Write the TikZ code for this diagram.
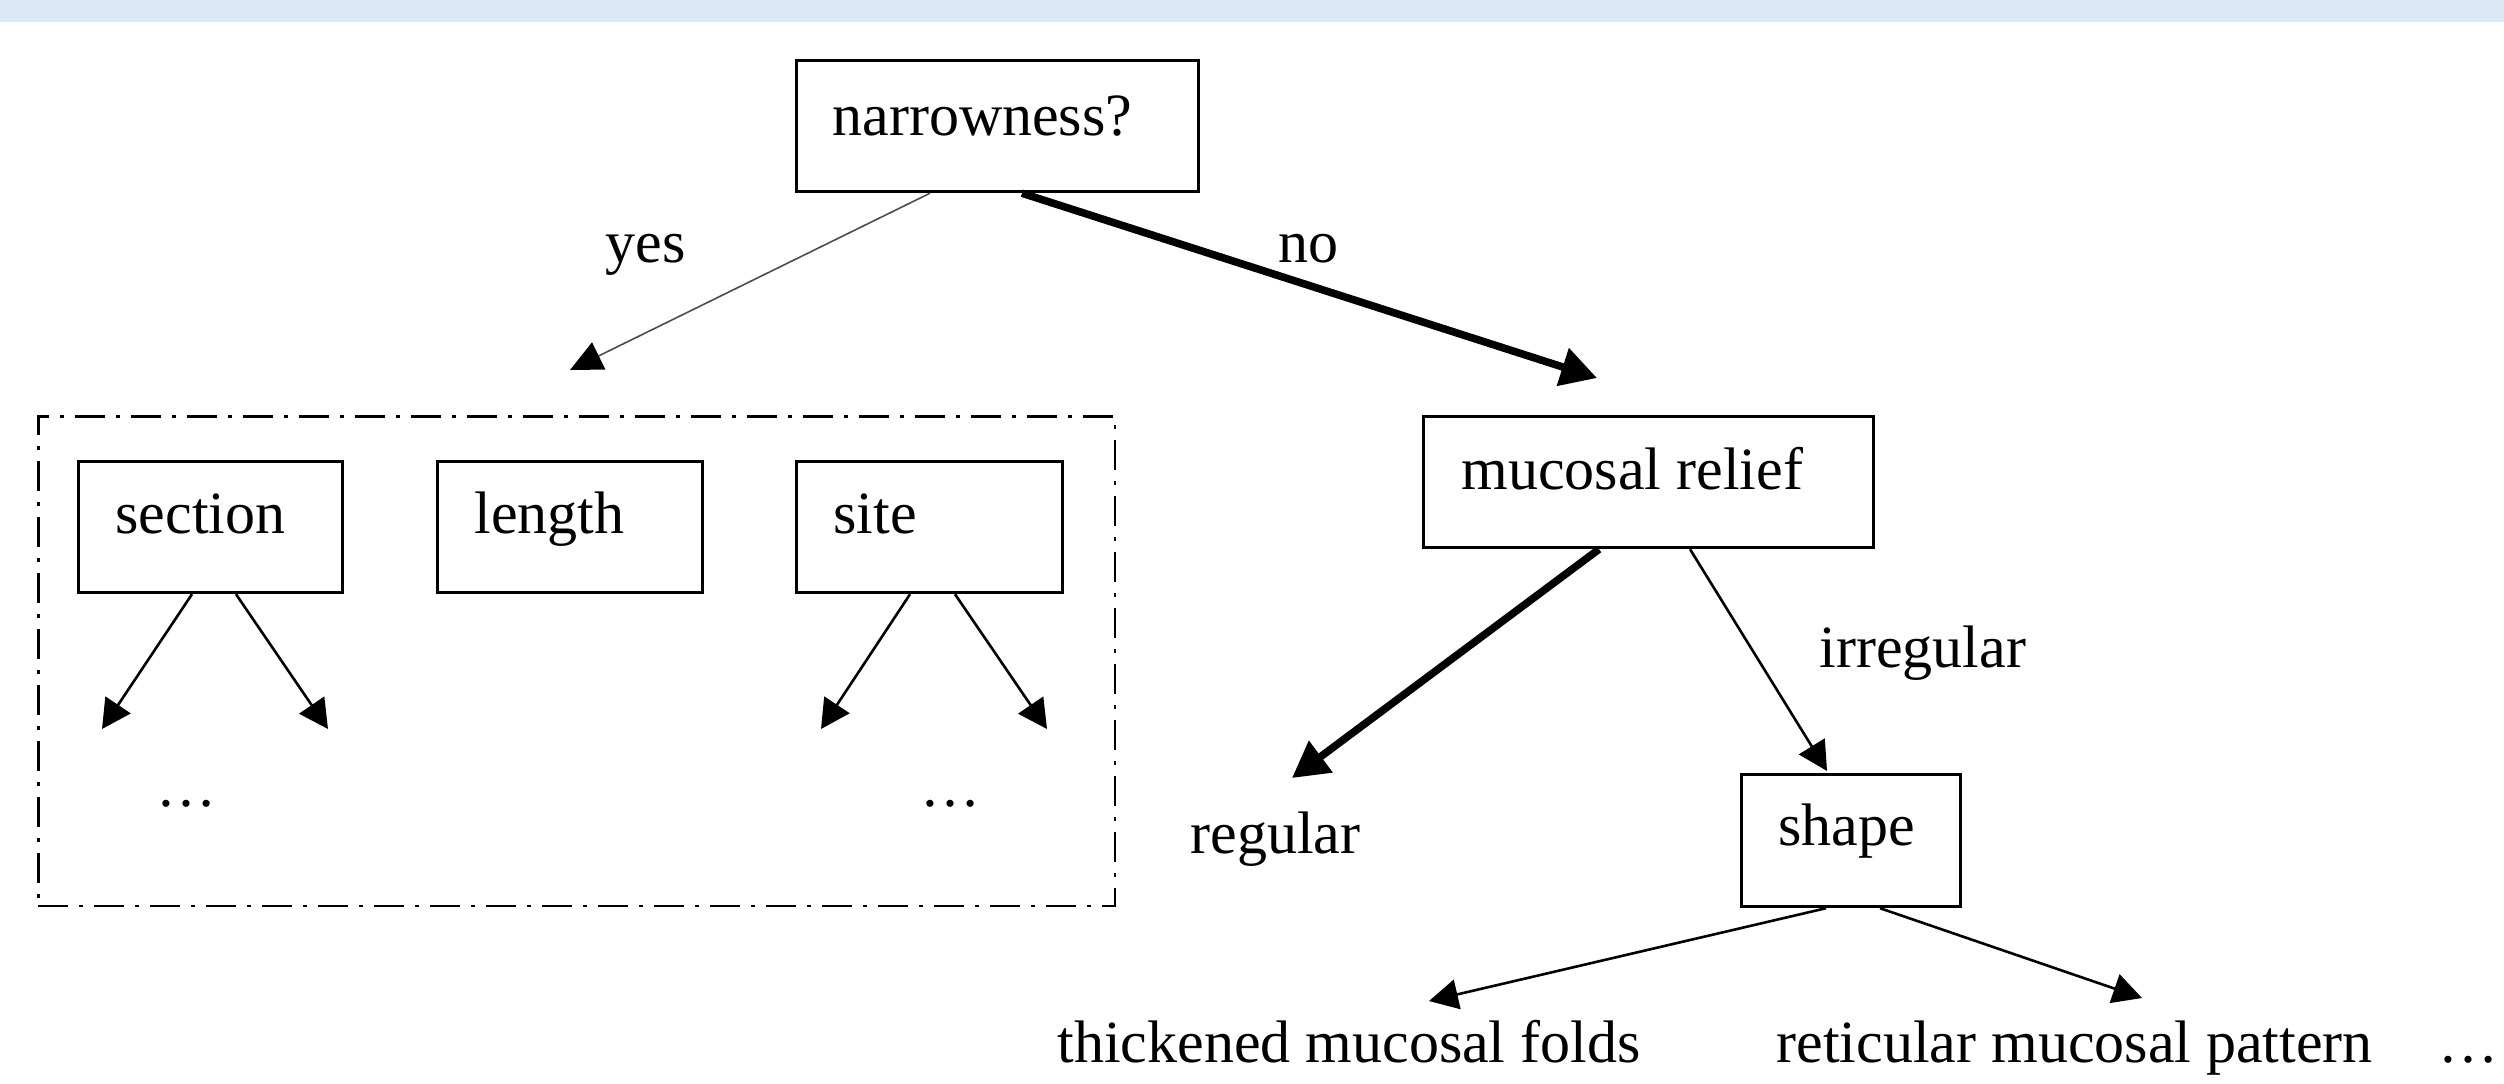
\documentclass[tikz,border=0pt]{standalone}
\usepackage{fontspec}
\setmainfont{Liberation Serif}
\usetikzlibrary{arrows.meta}
\definecolor{bandblue}{HTML}{DCE8F5}
\begin{document}
\begin{tikzpicture}[x=0.5pt,y=-0.5pt,
  box/.style={draw, line width=1.7pt, inner sep=0pt, minimum height=65.5pt},
  frm/.style={draw, line width=1.3pt, inner sep=0pt, dash pattern=on 15pt off 5.5pt on 2pt off 5.5pt},
  txt/.style={anchor=base west, inner sep=0pt, font=\fontsize{30}{36}\selectfont},
  dots/.style={anchor=base, inner sep=0pt, font=\fontsize{30}{36}\selectfont},
  thinarr/.style={line width=1.3pt, -{Triangle[length=14.5pt,width=15pt]}},
  hairarr/.style={line width=0.8pt, draw=black!70, -{Triangle[length=16pt,width=15pt,color=black]}},
  heavyarr/.style={line width=3.8pt, -{Triangle[length=18pt,width=19pt]}},
]
\fill[bandblue] (0,0) rectangle (2504,22);
\useasboundingbox (0,0) rectangle (2504,1083);

% boxes
\node[box, minimum width=201pt] (nar) at (997.5,126) {};
\node[frm, minimum width=538.3pt, minimum height=244.8pt] (frame) at (576.5,661) {};
\node[box, minimum width=132pt] (sec) at (210.5,527) {};
\node[box, minimum width=132.5pt] (len) at (570,527) {};
\node[box, minimum width=133pt] (site) at (929.5,527) {};
\node[box, minimum width=225pt] (muc) at (1648.5,482) {};
\node[box, minimum width=109.5pt, minimum height=66pt] (shp) at (1851,840.5) {};

% texts
\node[txt] (tnar) at (832,135) {narrowness?};
\node[txt] (tsec) at (115,533) {section};
\node[txt] (tlen) at (474,533) {length};
\node[txt] (tsite) at (833,533) {site};
\node[txt] (tmuc) at (1461,489) {mucosal relief};
\node[txt] (tshp) at (1778,845) {shape};
\node[txt] (yes) at (605,262) {yes};
\node[txt] (no) at (1278,262) {no};
\node[txt] (irr) at (1819,667) {irregular};
\node[txt] (reg) at (1190,853) {regular};
\node[txt] (thick) at (1057,1062) {thickened mucosal folds};
\node[txt] (ret) at (1776,1062) {reticular mucosal pattern};
\node[dots] (dl) at (186,806) {…};
\node[dots] (dr) at (950,806) {…};
\node[dots] (db) at (2468,1062) {…};

% free ends
\coordinate (yesend) at (570,370);
\coordinate (noend) at (1597,378);
\coordinate (secl) at (102,729);
\coordinate (secr) at (328,729);
\coordinate (sitel) at (821,729);
\coordinate (siter) at (1047,729);
\coordinate (regend) at (1292,778);
\coordinate (shpend) at (1827,771);
\coordinate (thkend) at (1429,1001);
\coordinate (retend) at (2142,998);

% connectors
\draw[hairarr] ([xshift=-33.75pt]nar.south) -- (yesend);
\draw[heavyarr] ([xshift=12.25pt]nar.south) -- (noend);
\draw[thinarr] ([xshift=-9.25pt]sec.south) -- (secl);
\draw[thinarr] ([xshift=12.75pt]sec.south) -- (secr);
\draw[thinarr] ([xshift=-9.75pt]site.south) -- (sitel);
\draw[thinarr] ([xshift=12.75pt]site.south) -- (siter);
\draw[heavyarr] ([xshift=-24.75pt]muc.south) -- (regend);
\draw[thinarr] ([xshift=20.75pt]muc.south) -- (shpend);
\draw[thinarr] ([xshift=-12.5pt]shp.south) -- (thkend);
\draw[thinarr] ([xshift=14.5pt]shp.south) -- (retend);
\end{tikzpicture}
\end{document}
